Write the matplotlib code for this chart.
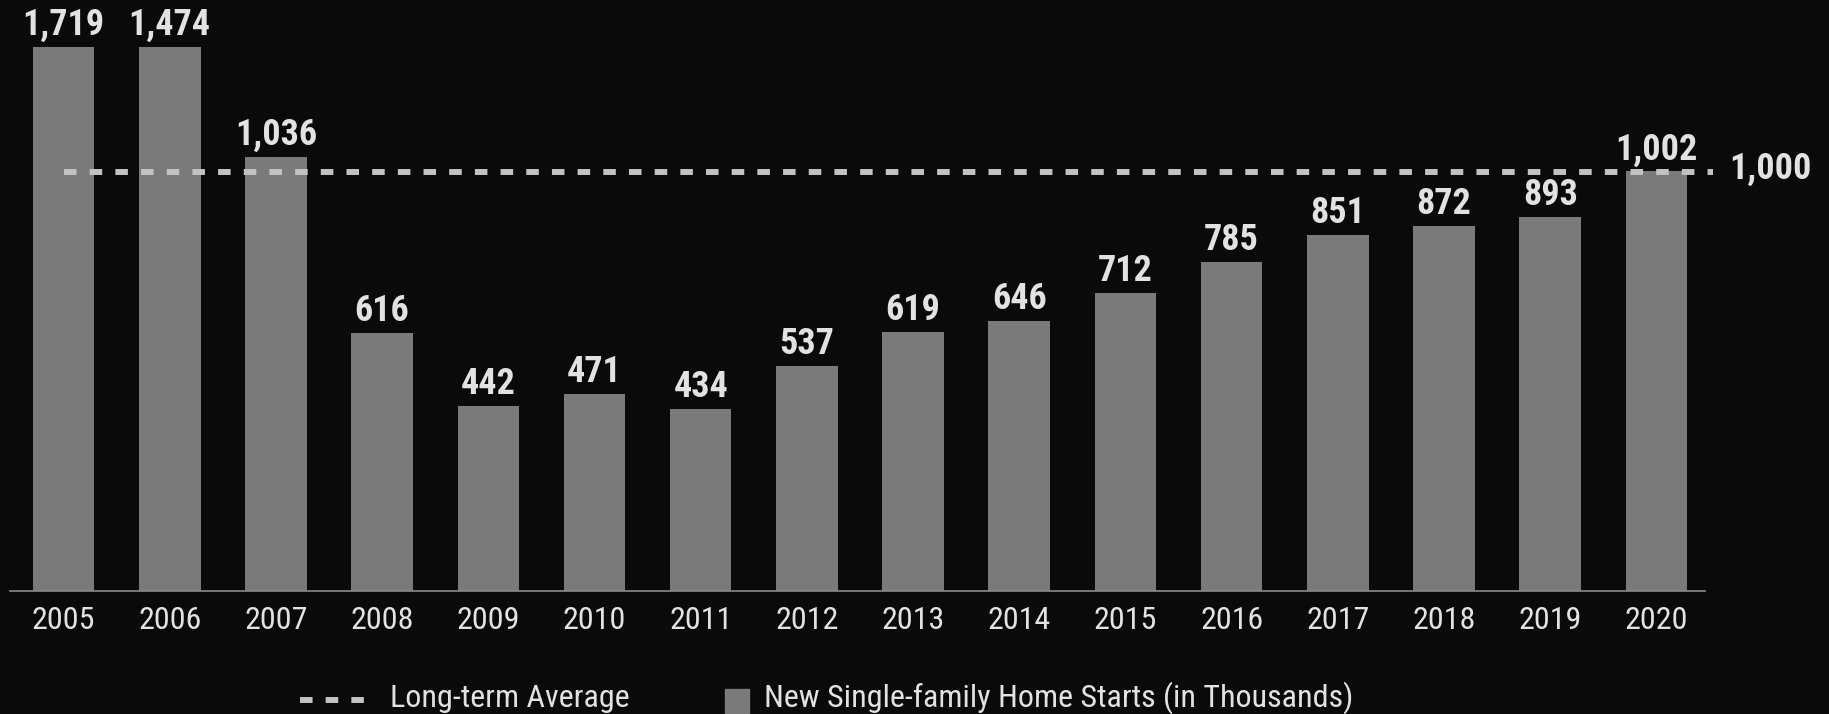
import matplotlib
matplotlib.use("Agg")
import matplotlib.pyplot as plt
from matplotlib import font_manager
from matplotlib.lines import Line2D
from matplotlib.patches import Rectangle

years = ["2005", "2006", "2007", "2008", "2009", "2010", "2011", "2012",
         "2013", "2014", "2015", "2016", "2017", "2018", "2019", "2020"]
starts = [1719, 1474, 1036, 616, 442, 471, 434, 537,
          619, 646, 712, 785, 851, 872, 893, 1002]
long_term_avg = 1000
y_max = 1300

BG = "#0a0a0a"
BAR = "#7a7a7a"
TEXT = "#e2e2e2"
DASH = "#c2c2c2"

installed = {f.name for f in font_manager.fontManager.ttflist}
family = next((n for n in ["Liberation Sans Narrow", "Roboto Condensed", "Liberation Sans"]
               if n in installed), "DejaVu Sans")
plt.rcParams["font.family"] = [family, "DejaVu Sans"]

W, H = 1829, 714
fig = plt.figure(figsize=(W / 100, H / 100), dpi=100, facecolor=BG)
ax = fig.add_axes([10 / W, 1 - 591 / H, (1705 - 10) / W, (591 - 46.7) / H])
ax.set_facecolor(BG)

x = range(len(years))
ax.bar(x, starts, width=0.58, color=BAR, zorder=2)
ax.set_xlim(-0.504, 15.457)
ax.set_ylim(0, y_max)

# value labels; the tall early bars are cut off at the top of the axes
for i, v in enumerate(starts):
    ax.annotate(f"{v:,}", (i, min(v, y_max)), xytext=(0, 8.6), textcoords="offset points",
                ha="center", va="baseline", color=TEXT, fontsize=26, fontweight="bold",
                annotation_clip=False)

# long-term average reference line
avg_end = 15.53
ax.plot([0, avg_end], [long_term_avg, long_term_avg], color=DASH, lw=4.3,
        dashes=(2.1, 2.2), zorder=3, clip_on=False)
ax.annotate(f"{long_term_avg:,}", (avg_end, long_term_avg), xytext=(12, -4.7),
            textcoords="offset points", ha="left", va="baseline", color=TEXT,
            fontsize=26, fontweight="bold", annotation_clip=False)

ax.set_xticks(list(x))
ax.set_xticklabels(years)
ax.set_yticks([])
ax.tick_params(axis="x", length=0, pad=11, labelsize=23, labelcolor=TEXT)
for side in ["top", "left", "right"]:
    ax.spines[side].set_visible(False)
ax.spines["bottom"].set_color("#8a8a8a")
ax.spines["bottom"].set_linewidth(1.2)

# legend, placed by hand along the bottom edge
def fx(px):
    return px / W

def fy(py):
    return 1 - py / H

fig.add_artist(Line2D([fx(300), fx(365)], [fy(700), fy(700)], transform=fig.transFigure,
                      color=DASH, lw=4.3, dashes=(2.1, 2.2)))
fig.text(fx(390), fy(707), "Long-term Average", color=TEXT, fontsize=23,
         ha="left", va="baseline")
fig.add_artist(Rectangle((fx(725), fy(713)), fx(24), 24 / H, transform=fig.transFigure,
                         color=BAR))
fig.text(fx(764), fy(707), "New Single-family Home Starts (in Thousands)", color=TEXT,
         fontsize=23, ha="left", va="baseline")

fig.savefig("out.png", dpi=100, facecolor=BG)
